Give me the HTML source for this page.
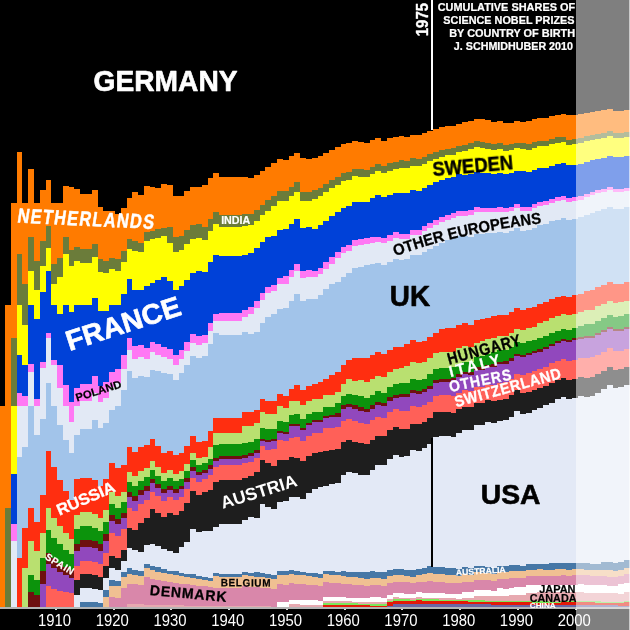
<!DOCTYPE html>
<html><head><meta charset="utf-8"><title>Nobel shares</title>
<style>
html,body{margin:0;padding:0;background:#000;}
body{width:630px;height:630px;overflow:hidden;font-family:"Liberation Sans",sans-serif;}
svg{display:block;}
text{font-family:"Liberation Sans",sans-serif;}
</style></head><body>
<svg width="630" height="630" viewBox="0 0 630 630" shape-rendering="crispEdges">
<rect x="0" y="0" width="630" height="630" fill="#000"/>
<g>
<path d="M-0.8 0H630V109.6H624.2V110.7H618.4V110.8H612.6V108.8H606.8V109.9H601V110.5H595.3V111.7H589.5V112.9H583.7V114.1H577.9V114.6H572.1V115.3H566.3V114.3H560.5V114.8H554.8V116.1H549V117.5H543.2V118H537.4V119.4H531.6V120.8H525.8V122.3H520V121.3H514.2V122.8H508.5V123.1H502.7V121.2H496.9V121.5H491.1V120.2H485.3V119.1H479.5V118.9H473.7V120.5H467.9V122.1H462.2V123.8H456.4V125.5H450.6V125.9H444.8V127H439V128.8H433.2V130.8H427.4V132.7H421.7V134.8H410.1V136.9H404.3V135.9H398.5V137H392.7V138.1H386.9V140.5H381.1V137.6H375.4V140H369.6V142.5H363.8V141.9H358V140.7H352.2V143.4H346.4V144.2H340.6V147H334.8V149.9H329.1V152.9H323.3V156.1H317.5V158H311.7V159.2H305.9V158.2H300.1V152.6H294.3V156.2H288.6V159.8H282.8V158.8H277V162.7H271.2V166.9H265.4V170.5H259.6V175H253.8V178H248V177.3H242.3V176.5H219.1V172.7H213.3V178H207.5V184.6H201.7V187.4H196V186.9H190.2V191.2H184.4V195.8H178.6V195.5H172.8V185H167V184.3H161.2V187.7H155.4V187.1H149.7V186.3H143.9V195.1H138.1V191.5H132.3V197.9H126.5V208.3H120.7V214.3H114.9V210.8H109.2V211.3H103.4V207.3H97.6V189.5H91.8V193.8H80.2V188.5H74.4V187.4H68.6V186.1H62.9V203H51.3V180.4H45.5V190.3H39.7V203H33.9V169.2H28.1V203H22.3V152.2H16.6V203H10.8V304.5H5V406H-0.8Z" fill="#000000"/>
<path d="M-0.8 406H5V304.5H10.8V203H16.6V152.2H22.3V203H28.1V169.2H33.9V203H39.7V190.3H45.5V180.4H51.3V203H62.9V186.1H68.6V187.4H74.4V188.5H80.2V193.8H91.8V189.5H97.6V207.3H103.4V211.3H109.2V210.8H114.9V214.3H120.7V208.3H126.5V197.9H132.3V191.5H138.1V195.1H143.9V186.3H149.7V187.1H155.4V187.7H161.2V184.3H167V185H172.8V195.5H178.6V195.8H184.4V191.2H190.2V186.9H196V187.4H201.7V184.6H207.5V178H213.3V172.7H219.1V176.5H242.3V177.3H248V178H253.8V175H259.6V170.5H265.4V166.9H271.2V162.7H277V158.8H282.8V159.8H288.6V156.2H294.3V152.6H300.1V158.2H305.9V159.2H311.7V158H317.5V156.1H323.3V152.9H329.1V149.9H334.8V147H340.6V144.2H346.4V143.4H352.2V140.7H358V141.9H363.8V142.5H369.6V140H375.4V137.6H381.1V140.5H386.9V138.1H392.7V137H398.5V135.9H404.3V136.9H410.1V134.8H421.7V132.7H427.4V130.8H433.2V128.8H439V127H444.8V125.9H450.6V125.5H456.4V123.8H462.2V122.1H467.9V120.5H473.7V118.9H479.5V119.1H485.3V120.2H491.1V121.5H496.9V121.2H502.7V123.1H508.5V122.8H514.2V121.3H520V122.3H525.8V120.8H531.6V119.4H537.4V118H543.2V117.5H549V116.1H554.8V114.8H560.5V114.3H566.3V115.3H572.1V114.6H577.9V114.1H583.7V112.9H589.5V111.7H595.3V110.5H601V109.9H606.8V108.8H612.6V110.8H618.4V110.7H624.2V109.6H630V131.5H624.2V132.8H618.4V133.1H612.6V131.3H606.8V132.7H601V133.5H595.3V134.9H589.5V136.4H583.7V137.8H577.9V138.6H572.1V139.6H566.3V136.6H560.5V137.4H554.8V138.9H549V140.5H543.2V140.6H537.4V142.2H531.6V143.9H525.8V143.2H520V142.5H514.2V144.2H508.5V144.8H502.7V143.2H496.9V143.7H491.1V142.7H485.3V141.9H479.5V140.7H473.7V142.6H467.9V144.5H462.2V145.8H456.4V147.9H450.6V148.5H444.8V149.9H439V152.1H433.2V154.4H427.4V156.7H421.7V159.1H415.9V158.4H410.1V160.9H404.3V160.2H398.5V161.7H392.7V163.3H386.9V166H381.1V163.7H375.4V166.5H369.6V169.5H363.8V169.4H358V168.8H352.2V171.9H346.4V173.3H340.6V176.6H334.8V180.1H329.1V183.8H323.3V187.6H317.5V190.1H311.7V192H305.9V191.8H300.1V182.4H294.3V186.6H288.6V191H282.8V190.7H277V195.5H271.2V200.4H265.4V204.8H259.6V210.2H253.8V214.1H248V214.4H242.3V214.8H219.1V212.1H213.3V218.6H207.5V226.8H201.7V224.2H196V224.9H190.2V230.1H184.4V235.6H178.6V236.8H172.8V227.4H167V228.4H161.2V229.4H155.4V230.5H149.7V231.8H143.9V242.6H138.1V240.7H132.3V238.5H126.5V251.1H120.7V259.4H114.9V257.7H109.2V261H103.4V259.1H97.6V243.6H91.8V249.1H80.2V246.5H74.4V249.8H68.6V236.8H62.9V258.4H57.1V263.9H51.3V225.6H45.5V241.1H39.7V261H33.9V236.8H28.1V284.2H22.3V253.8H16.6V338.3H10.8V507.5H5V609H-0.8Z" fill="#ff7b00"/>
<path d="M-0.8 609H5V507.5H10.8V338.3H16.6V253.8H22.3V284.2H28.1V236.8H33.9V261H39.7V241.1H45.5V225.6H51.3V263.9H57.1V258.4H62.9V236.8H68.6V249.8H74.4V246.5H80.2V249.1H91.8V243.6H97.6V259.1H103.4V261H109.2V257.7H114.9V259.4H120.7V251.1H126.5V238.5H132.3V240.7H138.1V242.6H143.9V231.8H149.7V230.5H155.4V229.4H161.2V228.4H167V227.4H172.8V236.8H178.6V235.6H184.4V230.1H190.2V224.9H196V224.2H201.7V226.8H207.5V218.6H213.3V212.1H219.1V214.8H242.3V214.4H248V214.1H253.8V210.2H259.6V204.8H265.4V200.4H271.2V195.5H277V190.7H282.8V191H288.6V186.6H294.3V182.4H300.1V191.8H305.9V192H311.7V190.1H317.5V187.6H323.3V183.8H329.1V180.1H334.8V176.6H340.6V173.3H346.4V171.9H352.2V168.8H358V169.4H363.8V169.5H369.6V166.5H375.4V163.7H381.1V166H386.9V163.3H392.7V161.7H398.5V160.2H404.3V160.9H410.1V158.4H415.9V159.1H421.7V156.7H427.4V154.4H433.2V152.1H439V149.9H444.8V148.5H450.6V147.9H456.4V145.8H462.2V144.5H467.9V142.6H473.7V140.7H479.5V141.9H485.3V142.7H491.1V143.7H496.9V143.2H502.7V144.8H508.5V144.2H514.2V142.5H520V143.2H525.8V143.9H531.6V142.2H537.4V140.6H543.2V140.5H549V138.9H554.8V137.4H560.5V136.6H566.3V139.6H572.1V138.6H577.9V137.8H583.7V136.4H589.5V134.9H595.3V133.5H601V132.7H606.8V131.3H612.6V133.1H618.4V132.8H624.2V131.5H630V136.8H624.2V137.5H618.4V137.9H612.6V136.2H606.8V137.6H601V138.5H595.3V139.9H589.5V141.4H583.7V142.9H577.9V143.7H572.1V144.7H566.3V141.9H560.5V142.7H554.8V144.3H549V146H543.2V146.1H537.4V147.8H531.6V149.5H525.8V148.9H520V148.2H514.2V150.1H508.5V150.7H502.7V149.2H496.9V149.8H491.1V148.9H485.3V148.1H479.5V147H473.7V148.9H467.9V151H462.2V152.4H456.4V154.5H450.6V155.3H444.8V156.8H439V159.1H433.2V161.4H427.4V163.9H421.7V166.4H415.9V165.8H410.1V168.4H404.3V167.8H398.5V169.4H392.7V171.1H386.9V172.9H381.1V170.6H375.4V173.6H369.6V176.7H358V176.2H352.2V179.5H346.4V181H340.6V184.5H334.8V188.2H329.1V192H323.3V196H317.5V198.7H311.7V200.8H300.1V191.6H294.3V196H288.6V200.6H282.8V200.5H277V205.5H271.2V210.7H265.4V215.3H259.6V221H253.8V225.2H248V225.9H242.3V226.5H219.1V224.2H213.3V231.1H207.5V239.7H201.7V237.6H196V238.8H190.2V244.3H184.4V250.1H178.6V251.9H172.8V242.8H167V236.4H161.2V237.8H155.4V239.2H149.7V240.9H143.9V252.2H138.1V250.5H132.3V248.7H126.5V261.8H120.7V270.7H114.9V269.4H109.2V273.4H103.4V272.1H97.6V257.1H91.8V263H80.2V261H74.4V265.5H68.6V253.8H62.9V276.8H57.1V284.2H51.3V248.1H45.5V266.4H39.7V290H33.9V270.7H28.1V324.8H22.3V304.5H16.6V406H10.8V609H-0.8Z" fill="#6b7c3a"/>
<path d="M-0.8 609H10.8V406H16.6V304.5H22.3V324.8H28.1V270.7H33.9V290H39.7V266.4H45.5V248.1H51.3V284.2H57.1V276.8H62.9V253.8H68.6V265.5H74.4V261H80.2V263H91.8V257.1H97.6V272.1H103.4V273.4H109.2V269.4H114.9V270.7H120.7V261.8H126.5V248.7H132.3V250.5H138.1V252.2H143.9V240.9H149.7V239.2H155.4V237.8H161.2V236.4H167V242.8H172.8V251.9H178.6V250.1H184.4V244.3H190.2V238.8H196V237.6H201.7V239.7H207.5V231.1H213.3V224.2H219.1V226.5H242.3V225.9H248V225.2H253.8V221H259.6V215.3H265.4V210.7H271.2V205.5H277V200.5H282.8V200.6H288.6V196H294.3V191.6H300.1V200.8H311.7V198.7H317.5V196H323.3V192H329.1V188.2H334.8V184.5H340.6V181H346.4V179.5H352.2V176.2H358V176.7H369.6V173.6H375.4V170.6H381.1V172.9H386.9V171.1H392.7V169.4H398.5V167.8H404.3V168.4H410.1V165.8H415.9V166.4H421.7V163.9H427.4V161.4H433.2V159.1H439V156.8H444.8V155.3H450.6V154.5H456.4V152.4H462.2V151H467.9V148.9H473.7V147H479.5V148.1H485.3V148.9H491.1V149.8H496.9V149.2H502.7V150.7H508.5V150.1H514.2V148.2H520V148.9H525.8V149.5H531.6V147.8H537.4V146.1H543.2V146H549V144.3H554.8V142.7H560.5V141.9H566.3V144.7H572.1V143.7H577.9V142.9H583.7V141.4H589.5V139.9H595.3V138.5H601V137.6H606.8V136.2H612.6V137.9H618.4V137.5H624.2V136.8H630V156H624.2V156.9H618.4V157.4H612.6V156H606.8V157.6H601V158.7H595.3V160.3H589.5V162H583.7V163.8H577.9V164.8H572.1V165.3H566.3V162.6H560.5V163.7H554.8V165.6H549V167.5H543.2V167.8H537.4V169.8H531.6V171.8H525.8V171.4H520V171.1H514.2V173.2H508.5V174.1H502.7V172.8H496.9V173.8H491.1V173.2H485.3V172.8H479.5V171.9H473.7V174.2H467.9V174.8H462.2V174.4H456.4V176.8H450.6V177.9H444.8V179.7H439V182.4H433.2V185.1H427.4V187.9H421.7V190.7H415.9V190.4H410.1V193.4H404.3V193.3H398.5V192.5H392.7V194.6H386.9V196.7H381.1V194.9H375.4V198.3H369.6V201.8H363.8V202.4H352.2V206.2H346.4V208.2H340.6V212.2H334.8V216.4H329.1V220.8H323.3V225.4H317.5V228.7H311.7V227.1H305.9V227.6H300.1V219H294.3V224.1H288.6V229.4H282.8V230H277V235.7H271.2V236.5H265.4V241.7H259.6V248.1H253.8V253.1H248V254.5H242.3V256H219.1V254.5H213.3V262.3H207.5V272.1H201.7V271H196V273.4H190.2V279.7H184.4V286.4H178.6V289.5H172.8V281.4H167V276.5H161.2V279.5H155.4V282.8H149.7V286.3H143.9V290.2H138.1V289.8H132.3V279.1H126.5V293.8H120.7V304.5H109.2V310.7H103.4V311H97.6V297.7H91.8V304.5H74.4V312.3H68.6V304.5H62.9V313.7H57.1V304.5H51.3V270.7H45.5V291.8H39.7V319H33.9V304.5H28.1V365.4H22.3V355.2H16.6V473.7H10.8V609H-0.8Z" fill="#ffff00"/>
<path d="M-0.8 609H10.8V473.7H16.6V355.2H22.3V365.4H28.1V304.5H33.9V319H39.7V291.8H45.5V270.7H51.3V304.5H57.1V313.7H62.9V304.5H68.6V312.3H74.4V304.5H91.8V297.7H97.6V311H103.4V310.7H109.2V304.5H120.7V293.8H126.5V279.1H132.3V289.8H138.1V290.2H143.9V286.3H149.7V282.8H155.4V279.5H161.2V276.5H167V281.4H172.8V289.5H178.6V286.4H184.4V279.7H190.2V273.4H196V271H201.7V272.1H207.5V262.3H213.3V254.5H219.1V256H242.3V254.5H248V253.1H253.8V248.1H259.6V241.7H265.4V236.5H271.2V235.7H277V230H282.8V229.4H288.6V224.1H294.3V219H300.1V227.6H305.9V227.1H311.7V228.7H317.5V225.4H323.3V220.8H329.1V216.4H334.8V212.2H340.6V208.2H346.4V206.2H352.2V202.4H363.8V201.8H369.6V198.3H375.4V194.9H381.1V196.7H386.9V194.6H392.7V192.5H398.5V193.3H404.3V193.4H410.1V190.4H415.9V190.7H421.7V187.9H427.4V185.1H433.2V182.4H439V179.7H444.8V177.9H450.6V176.8H456.4V174.4H462.2V174.8H467.9V174.2H473.7V171.9H479.5V172.8H485.3V173.2H491.1V173.8H496.9V172.8H502.7V174.1H508.5V173.2H514.2V171.1H520V171.4H525.8V171.8H531.6V169.8H537.4V167.8H543.2V167.5H549V165.6H554.8V163.7H560.5V162.6H566.3V165.3H572.1V164.8H577.9V163.8H583.7V162H589.5V160.3H595.3V158.7H601V157.6H606.8V156H612.6V157.4H618.4V156.9H624.2V156H630V187.7H624.2V188.9H618.4V188.8H612.6V186.6H606.8V188.5H601V189.9H595.3V191.9H589.5V194H583.7V196H577.9V197.4H572.1V198.3H566.3V196H560.5V197.4H554.8V198.9H549V201.2H543.2V202H537.4V204.3H531.6V206.7H525.8V206.8H520V204.4H514.2V206.9H508.5V208.2H502.7V207.4H496.9V207.9H491.1V207.7H485.3V207.8H479.5V207.4H473.7V210.2H467.9V211.2H462.2V211.3H456.4V213.4H450.6V215H444.8V217.3H439V219.8H433.2V223H427.4V226.4H421.7V229.9H415.9V230H410.1V233.6H404.3V234.1H398.5V232.4H392.7V235.2H386.9V238H381.1V236.8H375.4V237.4H369.6V238H363.8V239.4H358V240.1H352.2V244.6H346.4V247.3H340.6V252.1H334.8V257.1H329.1V262.3H323.3V267.8H317.5V270.5H311.7V269.8H305.9V271.3H300.1V263.7H294.3V269.8H288.6V276.1H282.8V277.9H277V284.8H271.2V286.9H265.4V293.1H259.6V300.9H253.8V307.3H248V310.2H242.3V313.3H219.1V313.6H213.3V323.2H207.5V335.3H201.7V336.3H196V333.9H190.2V341.7H184.4V349.8H178.6V355.2H172.8V348.8H167V346.6H161.2V344.1H155.4V341.5H149.7V347.7H143.9V344.9H138.1V346.2H132.3V337.5H126.5V355.2H120.7V369.3H114.9V371.8H109.2V382.2H103.4V385.5H97.6V375.6H91.8V384.1H80.2V387.9H74.4V402.1H68.6V384.9H62.9V364.5H57.1V360.3H51.3V332.7H45.5V361.6H39.7V398.8H33.9V363.7H28.1V395.9H22.3V393.3H16.6V524.4H10.8V609H-0.8Z" fill="#0041d8"/>
<path d="M-0.8 609H10.8V524.4H16.6V393.3H22.3V395.9H28.1V363.7H33.9V398.8H39.7V361.6H45.5V332.7H51.3V360.3H57.1V364.5H62.9V384.9H68.6V402.1H74.4V387.9H80.2V384.1H91.8V375.6H97.6V385.5H103.4V382.2H109.2V371.8H114.9V369.3H120.7V355.2H126.5V337.5H132.3V346.2H138.1V344.9H143.9V347.7H149.7V341.5H155.4V344.1H161.2V346.6H167V348.8H172.8V355.2H178.6V349.8H184.4V341.7H190.2V333.9H196V336.3H201.7V335.3H207.5V323.2H213.3V313.6H219.1V313.3H242.3V310.2H248V307.3H253.8V300.9H259.6V293.1H265.4V286.9H271.2V284.8H277V277.9H282.8V276.1H288.6V269.8H294.3V263.7H300.1V271.3H305.9V269.8H311.7V270.5H317.5V267.8H323.3V262.3H329.1V257.1H334.8V252.1H340.6V247.3H346.4V244.6H352.2V240.1H358V239.4H363.8V238H369.6V237.4H375.4V236.8H381.1V238H386.9V235.2H392.7V232.4H398.5V234.1H404.3V233.6H410.1V230H415.9V229.9H421.7V226.4H427.4V223H433.2V219.8H439V217.3H444.8V215H450.6V213.4H456.4V211.3H462.2V211.2H467.9V210.2H473.7V207.4H479.5V207.8H485.3V207.7H491.1V207.9H496.9V207.4H502.7V208.2H508.5V206.9H514.2V204.4H520V206.8H525.8V206.7H531.6V204.3H537.4V202H543.2V201.2H549V198.9H554.8V197.4H560.5V196H566.3V198.3H572.1V197.4H577.9V196H583.7V194H589.5V191.9H595.3V189.9H601V188.5H606.8V186.6H612.6V188.8H618.4V188.9H624.2V187.7H630V190.9H624.2V192.1H618.4V192H612.6V189.9H606.8V191.8H601V193.3H595.3V195.3H589.5V197.4H583.7V199.5H577.9V200.9H572.1V201.8H566.3V199.6H560.5V201H554.8V202.6H549V204.9H543.2V205.7H537.4V208.1H531.6V210.6H525.8V210.7H520V208.3H514.2V210.8H508.5V212.2H502.7V211.5H496.9V212H491.1V211.9H485.3V212H479.5V211.7H473.7V214.5H467.9V215.6H462.2V215.8H456.4V217.9H450.6V219.5H444.8V222H439V224.5H433.2V227.8H427.4V231.2H421.7V234.8H415.9V235H410.1V238.7H404.3V239.3H398.5V237.7H392.7V240.5H386.9V243.4H381.1V242.3H375.4V243H369.6V243.7H363.8V245.2H358V246H352.2V250.6H346.4V253.4H340.6V258.4H334.8V263.5H329.1V268.8H323.3V274.4H317.5V277.3H311.7V276.8H305.9V278.4H300.1V270.9H294.3V277.2H288.6V283.7H282.8V284H277V291.1H271.2V293.3H265.4V299.7H259.6V307.7H253.8V314.2H248V317.4H242.3V320.7H219.1V321.2H213.3V331H207.5V343.4H201.7V344.7H196V342.6H190.2V350.5H184.4V358.9H178.6V364.6H172.8V358.5H167V356.6H161.2V354.6H155.4V352.4H149.7V359H143.9V356.8H138.1V358.5H132.3V350.2H126.5V368.6H120.7V383.4H114.9V386.5H109.2V397.7H103.4V401.7H97.6V392.5H91.8V401.4H80.2V406H74.4V421.6H68.6V406H62.9V387.5H57.1V365.4H51.3V338.3H45.5V367.9H39.7V406H33.9V372.2H28.1V406H16.6V541.3H10.8V609H-0.8Z" fill="#ff78f4"/>
<path d="M-0.8 609H10.8V541.3H16.6V406H28.1V372.2H33.9V406H39.7V367.9H45.5V338.3H51.3V365.4H57.1V387.5H62.9V406H68.6V421.6H74.4V406H80.2V401.4H91.8V392.5H97.6V401.7H103.4V397.7H109.2V386.5H114.9V383.4H120.7V368.6H126.5V350.2H132.3V358.5H138.1V356.8H143.9V359H149.7V352.4H155.4V354.6H161.2V356.6H167V358.5H172.8V364.6H178.6V358.9H184.4V350.5H190.2V342.6H196V344.7H201.7V343.4H207.5V331H213.3V321.2H219.1V320.7H242.3V317.4H248V314.2H253.8V307.7H259.6V299.7H265.4V293.3H271.2V291.1H277V284H282.8V283.7H288.6V277.2H294.3V270.9H300.1V278.4H305.9V276.8H311.7V277.3H317.5V274.4H323.3V268.8H329.1V263.5H334.8V258.4H340.6V253.4H346.4V250.6H352.2V246H358V245.2H363.8V243.7H369.6V243H375.4V242.3H381.1V243.4H386.9V240.5H392.7V237.7H398.5V239.3H404.3V238.7H410.1V235H415.9V234.8H421.7V231.2H427.4V227.8H433.2V224.5H439V222H444.8V219.5H450.6V217.9H456.4V215.8H462.2V215.6H467.9V214.5H473.7V211.7H479.5V212H485.3V211.9H491.1V212H496.9V211.5H502.7V212.2H508.5V210.8H514.2V208.3H520V210.7H525.8V210.6H531.6V208.1H537.4V205.7H543.2V204.9H549V202.6H554.8V201H560.5V199.6H566.3V201.8H572.1V200.9H577.9V199.5H583.7V197.4H589.5V195.3H595.3V193.3H601V191.8H606.8V189.9H612.6V192H618.4V192.1H624.2V190.9H630V207.3H624.2V208.7H612.6V206.7H606.8V208.9H601V210.5H595.3V212.7H589.5V215H583.7V217.3H577.9V218.9H572.1V220H566.3V217.9H560.5V219.6H554.8V221.3H549V223.9H543.2V224.9H537.4V227.5H531.6V230.2H525.8V230.6H520V228.4H514.2V231.2H508.5V232.9H502.7V232.4H496.9V233.2H491.1V233.4H485.3V233.8H479.5V233.7H473.7V236.9H467.9V235.5H462.2V235.9H456.4V238.3H450.6V240.2H444.8V243H439V245.8H433.2V249.4H427.4V251.7H421.7V254.5H415.9V254.9H410.1V258.9H404.3V259.8H398.5V258.6H392.7V261.7H386.9V265H381.1V263.1H375.4V264.2H369.6V265.3H363.8V267.2H358V268.4H352.2V273.4H346.4V276.7H340.6V282.1H334.8V283.7H329.1V289.4H323.3V295.4H317.5V298.8H311.7V298.7H305.9V300.8H300.1V293.8H294.3V300.6H288.6V307.7H282.8V308.6H277V313.7H271.2V316.5H265.4V323.4H259.6V332H253.8V333.7H248V331.7H242.3V335.4H219.1V333.3H213.3V343.5H207.5V356.3H201.7V358H196V356.4H190.2V364.7H184.4V373.4H178.6V379.7H172.8V373.9H167V372.6H161.2V371.2H155.4V369.7H149.7V377.2H143.9V375.9H138.1V378.2H132.3V370.5H126.5V390H120.7V406H114.9V409.9H109.2V422.6H103.4V427.6H97.6V419.5H91.8V429.1H80.2V435H74.4V452.8H68.6V439.8H62.9V424.5H57.1V406H51.3V383.4H45.5V418.7H39.7V435H33.9V406H28.1V446.6H22.3V456.8H16.6V609H-0.8Z" fill="#e2e9f5"/>
<path d="M-0.8 609H16.6V456.8H22.3V446.6H28.1V406H33.9V435H39.7V418.7H45.5V383.4H51.3V406H57.1V424.5H62.9V439.8H68.6V452.8H74.4V435H80.2V429.1H91.8V419.5H97.6V427.6H103.4V422.6H109.2V409.9H114.9V406H120.7V390H126.5V370.5H132.3V378.2H138.1V375.9H143.9V377.2H149.7V369.7H155.4V371.2H161.2V372.6H167V373.9H172.8V379.7H178.6V373.4H184.4V364.7H190.2V356.4H196V358H201.7V356.3H207.5V343.5H213.3V333.3H219.1V335.4H242.3V331.7H248V333.7H253.8V332H259.6V323.4H265.4V316.5H271.2V313.7H277V308.6H282.8V307.7H288.6V300.6H294.3V293.8H300.1V300.8H305.9V298.7H311.7V298.8H317.5V295.4H323.3V289.4H329.1V283.7H334.8V282.1H340.6V276.7H346.4V273.4H352.2V268.4H358V267.2H363.8V265.3H369.6V264.2H375.4V263.1H381.1V265H386.9V261.7H392.7V258.6H398.5V259.8H404.3V258.9H410.1V254.9H415.9V254.5H421.7V251.7H427.4V249.4H433.2V245.8H439V243H444.8V240.2H450.6V238.3H456.4V235.9H462.2V235.5H467.9V236.9H473.7V233.7H479.5V233.8H485.3V233.4H491.1V233.2H496.9V232.4H502.7V232.9H508.5V231.2H514.2V228.4H520V230.6H525.8V230.2H531.6V227.5H537.4V224.9H543.2V223.9H549V221.3H554.8V219.6H560.5V217.9H566.3V220H572.1V218.9H577.9V217.3H583.7V215H589.5V212.7H595.3V210.5H601V208.9H606.8V206.7H612.6V208.7H624.2V207.3H630V282.1H624.2V283.6H618.4V284.4H612.6V281.8H606.8V284.7H601V287.1H595.3V290.1H589.5V291.4H583.7V293.8H577.9V294.8H572.1V296.7H566.3V295.5H560.5V296.9H554.8V298.9H549V301.6H543.2V303.5H537.4V307.1H531.6V308.3H525.8V309.6H520V308.4H514.2V312.2H508.5V314.8H502.7V314.5H496.9V316.4H491.1V317.6H485.3V319.1H479.5V320.2H473.7V324.5H467.9V323.4H462.2V325.1H456.4V328H450.6V328.3H444.8V329.4H439V332.5H433.2V337.4H427.4V341H421.7V342.1H415.9V340.4H410.1V344.2H404.3V346.5H398.5V346.6H392.7V349.5H386.9V354.3H381.1V352.2H375.4V354.8H369.6V357.5H363.8V357.7H358V358.1H352.2V359.7H346.4V364.6H340.6V371.7H334.8V375.1H329.1V378.6H323.3V382.2H317.5V383.8H311.7V385.6H305.9V389.6H300.1V384.6H294.3V388.8H288.6V395.6H282.8V393.7H277V401H271.2V400.8H265.4V399H259.6V409.6H253.8V411.6H248V411.7H242.3V417.8H219.1V418.1H213.3V431H207.5V440.6H201.7V441.7H196V436H190.2V446.1H184.4V453.1H178.6V454.9H172.8V451H167V452.7H161.2V446.3H155.4V439.3H149.7V445.4H143.9V447.2H138.1V451.8H132.3V446.6H126.5V464.8H120.7V468H114.9V462.6H109.2V478.5H103.4V485.9H97.6V480.4H91.8V477.5H80.2V478.5H74.4V499.7H68.6V490.6H62.9V479.8H57.1V466.9H51.3V451.1H45.5V494.8H39.7V522H33.9V507.5H28.1V527.8H22.3V558.2H16.6V609H-0.8Z" fill="#a2c4ea"/>
<path d="M-0.8 609H16.6V558.2H22.3V527.8H28.1V507.5H33.9V522H39.7V494.8H45.5V451.1H51.3V466.9H57.1V479.8H62.9V490.6H68.6V499.7H74.4V478.5H80.2V477.5H91.8V480.4H97.6V485.9H103.4V478.5H109.2V462.6H114.9V468H120.7V464.8H126.5V446.6H132.3V451.8H138.1V447.2H143.9V445.4H149.7V439.3H155.4V446.3H161.2V452.7H167V451H172.8V454.9H178.6V453.1H184.4V446.1H190.2V436H196V441.7H201.7V440.6H207.5V431H213.3V418.1H219.1V417.8H242.3V411.7H248V411.6H253.8V409.6H259.6V399H265.4V400.8H271.2V401H277V393.7H282.8V395.6H288.6V388.8H294.3V384.6H300.1V389.6H305.9V385.6H311.7V383.8H317.5V382.2H323.3V378.6H329.1V375.1H334.8V371.7H340.6V364.6H346.4V359.7H352.2V358.1H358V357.7H363.8V357.5H369.6V354.8H375.4V352.2H381.1V354.3H386.9V349.5H392.7V346.6H398.5V346.5H404.3V344.2H410.1V340.4H415.9V342.1H421.7V341H427.4V337.4H433.2V332.5H439V329.4H444.8V328.3H450.6V328H456.4V325.1H462.2V323.4H467.9V324.5H473.7V320.2H479.5V319.1H485.3V317.6H491.1V316.4H496.9V314.5H502.7V314.8H508.5V312.2H514.2V308.4H520V309.6H525.8V308.3H531.6V307.1H537.4V303.5H543.2V301.6H549V298.9H554.8V296.9H560.5V295.5H566.3V296.7H572.1V294.8H577.9V293.8H583.7V291.4H589.5V290.1H595.3V287.1H601V284.7H606.8V281.8H612.6V284.4H618.4V283.6H624.2V282.1H630V300.5H624.2V302.1H618.4V303.1H612.6V300.7H606.8V303.8H601V306.4H595.3V309.6H589.5V309.7H583.7V312.3H577.9V313.5H572.1V315.1H566.3V314.1H560.5V315.7H554.8V317.9H549V320.8H543.2V322.9H537.4V326.7H531.6V328.2H525.8V329.7H520V328.8H514.2V332.8H508.5V335.7H496.9V337.8H491.1V339.3H485.3V341.1H479.5V342.5H473.7V347.1H467.9V346.3H462.2V348.3H456.4V351.5H450.6V352.2H444.8V352.1H439V352.6H433.2V357.8H427.4V361.7H421.7V363.1H415.9V361.7H410.1V365.8H404.3V368.4H398.5V368.9H392.7V372.2H386.9V377.3H381.1V375.6H375.4V378.6H369.6V381.7H363.8V379.7H358V380.5H352.2V378.7H346.4V384H340.6V391.5H334.8V395.2H329.1V395H323.3V399H317.5V398.9H311.7V400.9H305.9V405.3H300.1V400.7H294.3V400.5H288.6V407.6H282.8V406H277V413.5H271.2V413.7H265.4V412.2H259.6V423.1H253.8V425.5H248V426H242.3V432.5H219.1V433.3H213.3V446.6H207.5V456.8H201.7V458.4H196V453.3H190.2V463.8H184.4V471.2H178.6V473.7H172.8V470.2H167V472.8H161.2V467.2H155.4V461.1H149.7V468.1H143.9V471H138.1V476.4H132.3V472H126.5V491.5H120.7V496.2H114.9V491.9H109.2V509.6H103.4V518.3H97.6V514.3H91.8V512.1H80.2V514.8H74.4V538.7H68.6V532.9H62.9V526H57.1V517.6H51.3V507.5H45.5V532.9H39.7V551H33.9V541.3H28.1V568.4H22.3V609H-0.8Z" fill="#ff2e10"/>
<path d="M-0.8 609H22.3V568.4H28.1V541.3H33.9V551H39.7V532.9H45.5V507.5H51.3V517.6H57.1V526H62.9V532.9H68.6V538.7H74.4V514.8H80.2V512.1H91.8V514.3H97.6V518.3H103.4V509.6H109.2V491.9H114.9V496.2H120.7V491.5H126.5V472H132.3V476.4H138.1V471H143.9V468.1H149.7V461.1H155.4V467.2H161.2V472.8H167V470.2H172.8V473.7H178.6V471.2H184.4V463.8H190.2V453.3H196V458.4H201.7V456.8H207.5V446.6H213.3V433.3H219.1V432.5H242.3V426H248V425.5H253.8V423.1H259.6V412.2H265.4V413.7H271.2V413.5H277V406H282.8V407.6H288.6V400.5H294.3V400.7H300.1V405.3H305.9V400.9H311.7V398.9H317.5V399H323.3V395H329.1V395.2H334.8V391.5H340.6V384H346.4V378.7H352.2V380.5H358V379.7H363.8V381.7H369.6V378.6H375.4V375.6H381.1V377.3H386.9V372.2H392.7V368.9H398.5V368.4H404.3V365.8H410.1V361.7H415.9V363.1H421.7V361.7H427.4V357.8H433.2V352.6H439V352.1H444.8V352.2H450.6V351.5H456.4V348.3H462.2V346.3H467.9V347.1H473.7V342.5H479.5V341.1H485.3V339.3H491.1V337.8H496.9V335.7H508.5V332.8H514.2V328.8H520V329.7H525.8V328.2H531.6V326.7H537.4V322.9H543.2V320.8H549V317.9H554.8V315.7H560.5V314.1H566.3V315.1H572.1V313.5H577.9V312.3H583.7V309.7H589.5V309.6H595.3V306.4H601V303.8H606.8V300.7H612.6V303.1H618.4V302.1H624.2V300.5H630V314.2H624.2V316H618.4V317.1H612.6V314.8H606.8V318.1H601V320.8H595.3V323.5H589.5V323.7H583.7V326.4H577.9V327.8H572.1V329.5H566.3V328.7H560.5V330.5H554.8V332.9H549V335.9H543.2V338.2H537.4V339.8H531.6V341.4H525.8V343.1H520V342.3H514.2V346.5H508.5V349.6H502.7V349.7H496.9V352H491.1V353.8H485.3V355.7H479.5V357.3H473.7V362.1H467.9V361.5H462.2V363.7H456.4V367.2H450.6V368H444.8V368.2H439V368.9H433.2V374.4H427.4V378.5H421.7V380.2H415.9V379H410.1V383.4H404.3V383H398.5V383.7H392.7V387.3H386.9V392.6H381.1V391.3H375.4V394.5H369.6V397.9H363.8V396.2H358V395.4H352.2V393.9H346.4V395.7H340.6V403.4H334.8V407.3H329.1V407.4H323.3V411.6H317.5V411.7H311.7V414H305.9V418.7H300.1V414.4H294.3V414.6H288.6V422H282.8V420.7H277V428.6H271.2V429.2H265.4V428H259.6V439.4H253.8V442.2H248V443.2H242.3V444.2H219.1V445.4H213.3V459.1H207.5V463.2H201.7V465.1H196V460.2H190.2V470.9H184.4V478.5H178.6V481.2H172.8V477.9H167V480.8H161.2V475.5H155.4V469.8H149.7V477.2H143.9V480.5H138.1V486.2H132.3V482.1H126.5V502.2H120.7V507.5H114.9V503.6H109.2V522H103.4V531.3H97.6V527.8H91.8V526H80.2V529.2H74.4V554.3H68.6V549.8H62.9V544.4H57.1V537.9H51.3V530.1H45.5V558.2H39.7V580H33.9V575.2H28.1V609H-0.8Z" fill="#b9e070"/>
<path d="M-0.8 609H28.1V575.2H33.9V580H39.7V558.2H45.5V530.1H51.3V537.9H57.1V544.4H62.9V549.8H68.6V554.3H74.4V529.2H80.2V526H91.8V527.8H97.6V531.3H103.4V522H109.2V503.6H114.9V507.5H120.7V502.2H126.5V482.1H132.3V486.2H138.1V480.5H143.9V477.2H149.7V469.8H155.4V475.5H161.2V480.8H167V477.9H172.8V481.2H178.6V478.5H184.4V470.9H190.2V460.2H196V465.1H201.7V463.2H207.5V459.1H213.3V445.4H219.1V444.2H242.3V443.2H248V442.2H253.8V439.4H259.6V428H265.4V429.2H271.2V428.6H277V420.7H282.8V422H288.6V414.6H294.3V414.4H300.1V418.7H305.9V414H311.7V411.7H317.5V411.6H323.3V407.4H329.1V407.3H334.8V403.4H340.6V395.7H346.4V393.9H352.2V395.4H358V396.2H363.8V397.9H369.6V394.5H375.4V391.3H381.1V392.6H386.9V387.3H392.7V383.7H398.5V383H404.3V383.4H410.1V379H415.9V380.2H421.7V378.5H427.4V374.4H433.2V368.9H439V368.2H444.8V368H450.6V367.2H456.4V363.7H462.2V361.5H467.9V362.1H473.7V357.3H479.5V355.7H485.3V353.8H491.1V352H496.9V349.7H502.7V349.6H508.5V346.5H514.2V342.3H520V343.1H525.8V341.4H531.6V339.8H537.4V338.2H543.2V335.9H549V332.9H554.8V330.5H560.5V328.7H566.3V329.5H572.1V327.8H577.9V326.4H583.7V323.7H589.5V323.5H595.3V320.8H601V318.1H606.8V314.8H612.6V317.1H618.4V316H624.2V314.2H630V327.2H624.2V329.1H618.4V329.4H612.6V326.5H606.8V329.9H601V332.8H595.3V335.6H589.5V335.9H583.7V336.6H577.9V338H572.1V339.9H566.3V339.2H560.5V341.1H554.8V343.6H549V346.8H543.2V349.2H537.4V350.9H531.6V352.7H525.8V354.5H520V353.8H514.2V358.2H508.5V361.4H502.7V361.7H496.9V364.1H491.1V364.7H485.3V366.8H479.5V367.2H473.7V372.1H467.9V371.7H462.2V374H456.4V377.6H450.6V378.6H444.8V379H439V379.8H433.2V385.5H427.4V388.7H421.7V390.5H415.9V389.5H410.1V394H404.3V393.8H398.5V394.7H392.7V397.3H386.9V402.9H381.1V401.7H375.4V405.1H369.6V408.7H363.8V407.2H358V404.8H352.2V403.5H346.4V405.4H340.6V413.3H334.8V415.4H329.1V415.6H323.3V420H317.5V420.3H311.7V422.8H305.9V427.6H300.1V423.6H294.3V424H288.6V431.6H282.8V430.6H277V438.7H271.2V439.5H265.4V438.5H259.6V450.2H253.8V453.3H248V454.6H242.3V456H219.1V457.5H213.3V465.3H207.5V469.7H201.7V471.8H196V467.1H190.2V478H184.4V485.8H178.6V488.7H172.8V485.7H167V488.8H161.2V483.9H155.4V478.5H149.7V486.3H143.9V490.1H138.1V496H132.3V492.3H126.5V512.8H120.7V518.8H114.9V515.3H109.2V534.4H103.4V544.2H97.6V541.3H91.8V539.8H80.2V543.8H74.4V570H68.6V566.7H62.9V562.9H57.1V558.2H51.3V552.6H45.5V570.9H39.7V594.5H33.9V592.1H28.1V609H-0.8Z" fill="#0c930c"/>
<path d="M-0.8 609H28.1V592.1H33.9V594.5H39.7V570.9H45.5V552.6H51.3V558.2H57.1V562.9H62.9V566.7H68.6V570H74.4V543.8H80.2V539.8H91.8V541.3H97.6V544.2H103.4V534.4H109.2V515.3H114.9V518.8H120.7V512.8H126.5V492.3H132.3V496H138.1V490.1H143.9V486.3H149.7V478.5H155.4V483.9H161.2V488.8H167V485.7H172.8V488.7H178.6V485.8H184.4V478H190.2V467.1H196V471.8H201.7V469.7H207.5V465.3H213.3V457.5H219.1V456H242.3V454.6H248V453.3H253.8V450.2H259.6V438.5H265.4V439.5H271.2V438.7H277V430.6H282.8V431.6H288.6V424H294.3V423.6H300.1V427.6H305.9V422.8H311.7V420.3H317.5V420H323.3V415.6H329.1V415.4H334.8V413.3H340.6V405.4H346.4V403.5H352.2V404.8H358V407.2H363.8V408.7H369.6V405.1H375.4V401.7H381.1V402.9H386.9V397.3H392.7V394.7H398.5V393.8H404.3V394H410.1V389.5H415.9V390.5H421.7V388.7H427.4V385.5H433.2V379.8H439V379H444.8V378.6H450.6V377.6H456.4V374H462.2V371.7H467.9V372.1H473.7V367.2H479.5V366.8H485.3V364.7H491.1V364.1H496.9V361.7H502.7V361.4H508.5V358.2H514.2V353.8H520V354.5H525.8V352.7H531.6V350.9H537.4V349.2H543.2V346.8H549V343.6H554.8V341.1H560.5V339.2H566.3V339.9H572.1V338H577.9V336.6H583.7V335.9H589.5V335.6H595.3V332.8H601V329.9H606.8V326.5H612.6V329.4H618.4V329.1H624.2V327.2H630V329.2H624.2V331.2H618.4V331.4H612.6V328.6H606.8V332H601V334.9H595.3V337.7H589.5V338.1H583.7V338.8H577.9V340.2H572.1V342.1H566.3V341.4H560.5V343.3H554.8V345.9H549V349.1H543.2V351.6H537.4V353.3H531.6V355.1H525.8V356.9H520V356.3H514.2V360.7H508.5V363.9H502.7V364.2H496.9V366.7H491.1V367.3H485.3V369.5H479.5V369.9H473.7V374.9H467.9V374.4H462.2V376.8H456.4V380.4H450.6V381.5H444.8V381.9H439V382.8H433.2V388.5H427.4V391.8H421.7V393.6H415.9V392.6H410.1V397.2H404.3V397.1H398.5V398H392.7V400.7H386.9V406.3H381.1V405.1H375.4V408.6H369.6V412.3H363.8V410.9H358V408.5H352.2V407.3H346.4V409.2H340.6V417.2H334.8V417.4H329.1V417.7H323.3V422.1H317.5V422.4H311.7V425H305.9V429.9H300.1V425.8H294.3V426.3H288.6V434H282.8V433H277V441.2H271.2V442.1H265.4V441.2H259.6V452.9H253.8V456.1H248V457.5H242.3V459H219.1V460.5H213.3V468.5H207.5V472.9H201.7V475.2H196V470.6H190.2V481.5H184.4V489.4H178.6V492.5H172.8V489.5H167V492.8H161.2V488H155.4V482.8H149.7V490.8H143.9V494.8H138.1V501H132.3V497.3H126.5V518.2H120.7V524.4H114.9V521.2H109.2V540.6H103.4V550.7H97.6V548.1H91.8V546.7H80.2V551H74.4V577.8H68.6V575.2H62.9V572.1H57.1V568.4H51.3V563.9H45.5V583.6H39.7V609H-0.8Z" fill="#6e1010"/>
<path d="M-0.8 609H39.7V583.6H45.5V563.9H51.3V568.4H57.1V572.1H62.9V575.2H68.6V577.8H74.4V551H80.2V546.7H91.8V548.1H97.6V550.7H103.4V540.6H109.2V521.2H114.9V524.4H120.7V518.2H126.5V497.3H132.3V501H138.1V494.8H143.9V490.8H149.7V482.8H155.4V488H161.2V492.8H167V489.5H172.8V492.5H178.6V489.4H184.4V481.5H190.2V470.6H196V475.2H201.7V472.9H207.5V468.5H213.3V460.5H219.1V459H242.3V457.5H248V456.1H253.8V452.9H259.6V441.2H265.4V442.1H271.2V441.2H277V433H282.8V434H288.6V426.3H294.3V425.8H300.1V429.9H305.9V425H311.7V422.4H317.5V422.1H323.3V417.7H329.1V417.4H334.8V417.2H340.6V409.2H346.4V407.3H352.2V408.5H358V410.9H363.8V412.3H369.6V408.6H375.4V405.1H381.1V406.3H386.9V400.7H392.7V398H398.5V397.1H404.3V397.2H410.1V392.6H415.9V393.6H421.7V391.8H427.4V388.5H433.2V382.8H439V381.9H444.8V381.5H450.6V380.4H456.4V376.8H462.2V374.4H467.9V374.9H473.7V369.9H479.5V369.5H485.3V367.3H491.1V366.7H496.9V364.2H502.7V363.9H508.5V360.7H514.2V356.3H520V356.9H525.8V355.1H531.6V353.3H537.4V351.6H543.2V349.1H549V345.9H554.8V343.3H560.5V341.4H566.3V342.1H572.1V340.2H577.9V338.8H583.7V338.1H589.5V337.7H595.3V334.9H601V332H606.8V328.6H612.6V331.4H618.4V331.2H624.2V329.2H630V349.1H624.2V350.6H618.4V351H612.6V348.4H606.8V352H601V355.1H595.3V357.4H589.5V358H583.7V358.2H577.9V359.9H572.1V361.2H566.3V358.5H560.5V360.6H554.8V363.3H549V366.7H543.2V368.6H537.4V370.6H531.6V372.5H525.8V374.6H520V374.2H514.2V378.8H508.5V382.3H502.7V382.8H496.9V384.7H491.1V384.6H485.3V387H479.5V386.7H473.7V390.6H467.9V390.4H462.2V393H456.4V395.9H450.6V394.8H444.8V395.3H439V395.7H433.2V401.6H427.4V405.1H421.7V407.1H415.9V406.3H410.1V411.1H398.5V409H392.7V411.9H386.9V417.7H381.1V416.7H375.4V420.4H369.6V424.3H363.8V423.1H358V420.9H352.2V418.7H346.4V420.9H340.6V427.1H334.8V427.5H329.1V427.9H323.3V432.6H317.5V433.2H311.7V435.9H305.9V441.1H300.1V437.3H294.3V438H288.6V441.2H282.8V440.4H277V448.8H271.2V449.9H265.4V446.4H259.6V458.3H253.8V461.6H248V463.2H242.3V464.8H219.1V466.6H213.3V474.7H207.5V479.4H201.7V481.8H196V477.5H190.2V488.6H184.4V496.6H178.6V500H172.8V497.2H167V500.8H161.2V496.4H155.4V491.6H149.7V499.9H143.9V504.3H138.1V510.8H132.3V507.5H126.5V528.9H120.7V535.7H114.9V532.9H109.2V553.1H103.4V563.6H97.6V561.6H91.8V560.6H80.2V565.5H74.4V593.4H68.6V592.1H62.9V590.5H57.1V588.7H51.3V586.4H45.5V609H-0.8Z" fill="#9148bd"/>
<path d="M-0.8 609H45.5V586.4H51.3V588.7H57.1V590.5H62.9V592.1H68.6V593.4H74.4V565.5H80.2V560.6H91.8V561.6H97.6V563.6H103.4V553.1H109.2V532.9H114.9V535.7H120.7V528.9H126.5V507.5H132.3V510.8H138.1V504.3H143.9V499.9H149.7V491.6H155.4V496.4H161.2V500.8H167V497.2H172.8V500H178.6V496.6H184.4V488.6H190.2V477.5H196V481.8H201.7V479.4H207.5V474.7H213.3V466.6H219.1V464.8H242.3V463.2H248V461.6H253.8V458.3H259.6V446.4H265.4V449.9H271.2V448.8H277V440.4H282.8V441.2H288.6V438H294.3V437.3H300.1V441.1H305.9V435.9H311.7V433.2H317.5V432.6H323.3V427.9H329.1V427.5H334.8V427.1H340.6V420.9H346.4V418.7H352.2V420.9H358V423.1H363.8V424.3H369.6V420.4H375.4V416.7H381.1V417.7H386.9V411.9H392.7V409H398.5V411.1H410.1V406.3H415.9V407.1H421.7V405.1H427.4V401.6H433.2V395.7H439V395.3H444.8V394.8H450.6V395.9H456.4V393H462.2V390.4H467.9V390.6H473.7V386.7H479.5V387H485.3V384.6H491.1V384.7H496.9V382.8H502.7V382.3H508.5V378.8H514.2V374.2H520V374.6H525.8V372.5H531.6V370.6H537.4V368.6H543.2V366.7H549V363.3H554.8V360.6H560.5V358.5H566.3V361.2H572.1V359.9H577.9V358.2H583.7V358H589.5V357.4H595.3V355.1H601V352H606.8V348.4H612.6V351H618.4V350.6H624.2V349.1H630V367.3H624.2V368.9H618.4V369.6H612.6V367.2H606.8V370.9H601V374.3H595.3V376.8H589.5V377.5H583.7V376.9H577.9V378.7H572.1V380.3H566.3V377.8H560.5V380.1H554.8V383.1H549V385.5H543.2V387.6H537.4V389.8H531.6V392H525.8V393.1H520V390.4H514.2V395.2H508.5V398.9H502.7V399.7H496.9V400.5H491.1V399.9H485.3V402.5H473.7V406.5H462.2V409.4H456.4V412.5H450.6V411.6H444.8V411.5H439V412H433.2V418.2H427.4V421.9H421.7V424.2H415.9V423.6H410.1V428.6H404.3V429H398.5V427.2H392.7V430.3H386.9V436.4H381.1V435.8H375.4V439.8H369.6V444H363.8V443.3H358V441.5H352.2V439.6H346.4V442.2H340.6V448.8H334.8V449.7H329.1V450.6H323.3V451.5H317.5V452.5H311.7V455.7H305.9V461.2H300.1V457.9H294.3V456.8H288.6V460.3H282.8V460H277V466.4H271.2V462.8H265.4V459.6H259.6V471.9H253.8V475.5H248V477.5H242.3V479.6H219.1V481.7H213.3V490.3H207.5V492.4H201.7V495.2H196V491.4H190.2V502.8H184.4V511.1H178.6V515H172.8V512.6H167V516.8H161.2V513.1H155.4V509H149.7V518.1H143.9V523.4H138.1V530.4H132.3V527.8H126.5V550.2H120.7V558.2H114.9V556.3H109.2V565.5H103.4V576.6H97.6V575.2H91.8V574.4H80.2V580H74.4V609H-0.8Z" fill="#ff6058"/>
<path d="M-0.8 609H74.4V580H80.2V574.4H91.8V575.2H97.6V576.6H103.4V565.5H109.2V556.3H114.9V558.2H120.7V550.2H126.5V527.8H132.3V530.4H138.1V523.4H143.9V518.1H149.7V509H155.4V513.1H161.2V516.8H167V512.6H172.8V515H178.6V511.1H184.4V502.8H190.2V491.4H196V495.2H201.7V492.4H207.5V490.3H213.3V481.7H219.1V479.6H242.3V477.5H248V475.5H253.8V471.9H259.6V459.6H265.4V462.8H271.2V466.4H277V460H282.8V460.3H288.6V456.8H294.3V457.9H300.1V461.2H305.9V455.7H311.7V452.5H317.5V451.5H323.3V450.6H329.1V449.7H334.8V448.8H340.6V442.2H346.4V439.6H352.2V441.5H358V443.3H363.8V444H369.6V439.8H375.4V435.8H381.1V436.4H386.9V430.3H392.7V427.2H398.5V429H404.3V428.6H410.1V423.6H415.9V424.2H421.7V421.9H427.4V418.2H433.2V412H439V411.5H444.8V411.6H450.6V412.5H456.4V409.4H462.2V406.5H473.7V402.5H485.3V399.9H491.1V400.5H496.9V399.7H502.7V398.9H508.5V395.2H514.2V390.4H520V393.1H525.8V392H531.6V389.8H537.4V387.6H543.2V385.5H549V383.1H554.8V380.1H560.5V377.8H566.3V380.3H572.1V378.7H577.9V376.9H583.7V377.5H589.5V376.8H595.3V374.3H601V370.9H606.8V367.2H612.6V369.6H618.4V368.9H624.2V367.3H630V385H624.2V386.8H618.4V387.7H612.6V385.4H606.8V389.4H601V392.9H595.3V395.6H589.5V396.5H583.7V396.1H577.9V398.2H572.1V399.2H566.3V396.9H560.5V399.4H554.8V402.6H549V405.3H543.2V407.6H537.4V410H531.6V412.5H525.8V413.8H520V411.4H514.2V416.5H508.5V420.4H502.7V421.4H496.9V422.5H491.1V422.3H485.3V425.1H479.5V425.4H473.7V429.8H467.9V430.1H462.2V433.2H456.4V436.7H450.6V436.2H444.8V436.4H439V437.3H433.2V443.8H427.4V447.9H421.7V450.7H415.9V450.3H410.1V455.8H404.3V456.6H398.5V455.2H392.7V458.8H386.9V465.4H381.1V465.3H375.4V469.8H369.6V474.6H363.8V474.5H358V473.3H352.2V472H346.4V475.2H340.6V482.5H334.8V484H329.1V485.6H323.3V487.2H317.5V488.9H311.7V492.9H305.9V499.3H300.1V496.8H294.3V496.6H288.6V501.1H282.8V501.8H277V509.2H271.2V506.6H265.4V504.4H259.6V517.9H253.8V517.2H248V520.4H242.3V523.7H219.1V527.2H213.3V530.9H207.5V531.3H201.7V532H196V529.4H190.2V541.7H184.4V547.4H178.6V552.6H172.8V551.2H167V548.9H161.2V546.4H155.4V543.8H149.7V545.4H143.9V551.9H138.1V550.1H132.3V548.1H126.5V560.9H120.7V569.5H114.9V568H109.2V577.9H103.4V589.6H97.6V588.7H91.8V588.2H80.2V594.5H74.4V609H-0.8Z" fill="#1e1e1e"/>
<path d="M-0.8 609H74.4V594.5H80.2V588.2H91.8V588.7H97.6V589.6H103.4V577.9H109.2V568H114.9V569.5H120.7V560.9H126.5V548.1H132.3V550.1H138.1V551.9H143.9V545.4H149.7V543.8H155.4V546.4H161.2V548.9H167V551.2H172.8V552.6H178.6V547.4H184.4V541.7H190.2V529.4H196V532H201.7V531.3H207.5V530.9H213.3V527.2H219.1V523.7H242.3V520.4H248V517.2H253.8V517.9H259.6V504.4H265.4V506.6H271.2V509.2H277V501.8H282.8V501.1H288.6V496.6H294.3V496.8H300.1V499.3H305.9V492.9H311.7V488.9H317.5V487.2H323.3V485.6H329.1V484H334.8V482.5H340.6V475.2H346.4V472H352.2V473.3H358V474.5H363.8V474.6H369.6V469.8H375.4V465.3H381.1V465.4H386.9V458.8H392.7V455.2H398.5V456.6H404.3V455.8H410.1V450.3H415.9V450.7H421.7V447.9H427.4V443.8H433.2V437.3H439V436.4H444.8V436.2H450.6V436.7H456.4V433.2H462.2V430.1H467.9V429.8H473.7V425.4H479.5V425.1H485.3V422.3H491.1V422.5H496.9V421.4H502.7V420.4H508.5V416.5H514.2V411.4H520V413.8H525.8V412.5H531.6V410H537.4V407.6H543.2V405.3H549V402.6H554.8V399.4H560.5V396.9H566.3V399.2H572.1V398.2H577.9V396.1H583.7V396.5H589.5V395.6H595.3V392.9H601V389.4H606.8V385.4H612.6V387.7H618.4V386.8H624.2V385H630V559.9H624.2V561.6H618.4V562.8H612.6V562.4H606.8V561.9H601V564.2H595.3V563.7H589.5V563.2H583.7V562.8H572.1V563H566.3V562.5H560.5V562.8H554.8V563.4H549V564H543.2V563.5H537.4V564.2H531.6V563.6H525.8V565.5H520V565H514.2V565.3H508.5V566H502.7V565.5H496.9V567.5H491.1V567H485.3V566.4H479.5V565.9H473.7V568H467.9V567.4H462.2V569H456.4V568.4H450.6V567.8H444.8V567.2H439V566.6H433.2V566H427.4V567.9H421.7V569.4H415.9V570.4H410.1V569.8H404.3V569.2H398.5V568.6H392.7V569.6H386.9V572.3H381.1V571.7H375.4V571H369.6V571.6H363.8V571.7H358V572.3H352.2V571.6H346.4V570.9H340.6V572.1H334.8V571.4H329.1V570.6H323.3V574H317.5V573.3H311.7V572.5H305.9V571.7H300.1V570.8H294.3V570H288.6V571.4H282.8V570.5H277V574.6H271.2V573.7H265.4V573H259.6V572H253.8V572.8H248V571.8H242.3V573.7H219.1V572.6H213.3V577.8H207.5V576.6H201.7V575.5H196V574.4H190.2V573.6H184.4V572.8H178.6V571.4H172.8V570.5H167V568.9H161.2V567.3H155.4V565.5H149.7V563.6H143.9V570.9H138.1V569.7H132.3V568.4H126.5V571.6H120.7V580.8H114.9V579.7H109.2V590.4H103.4V602.5H97.6V602.2H91.8V602.1H80.2V609H-0.8Z" fill="#e3e9f6"/>
<path d="M-0.8 609H80.2V602.1H91.8V602.2H97.6V602.5H103.4V590.4H109.2V579.7H114.9V580.8H120.7V571.6H126.5V568.4H132.3V569.7H138.1V570.9H143.9V563.6H149.7V565.5H155.4V567.3H161.2V568.9H167V570.5H172.8V571.4H178.6V572.8H184.4V573.6H190.2V574.4H196V575.5H201.7V576.6H207.5V577.8H213.3V572.6H219.1V573.7H242.3V571.8H248V572.8H253.8V572H259.6V573H265.4V573.7H271.2V574.6H277V570.5H282.8V571.4H288.6V570H294.3V570.8H300.1V571.7H305.9V572.5H311.7V573.3H317.5V574H323.3V570.6H329.1V571.4H334.8V572.1H340.6V570.9H346.4V571.6H352.2V572.3H358V571.7H363.8V571.6H369.6V571H375.4V571.7H381.1V572.3H386.9V569.6H392.7V568.6H398.5V569.2H404.3V569.8H410.1V570.4H415.9V569.4H421.7V567.9H427.4V566H433.2V566.6H439V567.2H444.8V567.8H450.6V568.4H456.4V569H462.2V567.4H467.9V568H473.7V565.9H479.5V566.4H485.3V567H491.1V567.5H496.9V565.5H502.7V566H508.5V565.3H514.2V565H520V565.5H525.8V563.6H531.6V564.2H537.4V563.5H543.2V564H549V563.4H554.8V562.8H560.5V562.5H566.3V563H572.1V562.8H583.7V563.2H589.5V563.7H595.3V564.2H601V561.9H606.8V562.4H612.6V562.8H618.4V561.6H624.2V559.9H630V568.4H624.2V569.5H618.4V570.8H612.6V570.4H606.8V570H601V570.3H595.3V569.9H589.5V569.5H583.7V569.1H577.9V569.2H572.1V569.5H566.3V569.1H560.5V569.4H554.8V570.1H549V569.7H543.2V569.2H537.4V569.9H531.6V569.5H525.8V571.4H520V571H514.2V571.3H508.5V572.1H502.7V571.7H496.9V573.8H491.1V573.3H485.3V572.9H479.5V572.4H473.7V574.6H467.9V574.1H462.2V575.8H456.4V575.3H450.6V574.8H444.8V574.3H439V573.8H433.2V573.3H427.4V573.8H421.7V575.3H415.9V576.5H410.1V576H404.3V575.4H398.5V574.9H392.7V576H386.9V578.9H381.1V578.3H375.4V577.8H369.6V578.5H363.8V577.8H358V577.2H352.2V576.6H346.4V576H340.6V575.4H334.8V574.7H329.1V574H323.3V577.5H317.5V576.8H311.7V576.1H305.9V575.4H300.1V574.7H294.3V573.9H288.6V575.4H282.8V574.6H277V578.8H271.2V578H265.4V577.4H259.6V576.5H253.8V575.6H248V574.7H242.3V576.6H219.1V575.7H213.3V580.9H207.5V579.8H201.7V578.9H196V577.9H190.2V577.1H184.4V576.4H178.6V575.2H172.8V574.3H167V572.9H161.2V571.5H155.4V569.9H149.7V568.1H143.9V575.7H138.1V574.6H132.3V573.5H126.5V576.9H120.7V586.4H114.9V585.6H109.2V596.6H103.4V609H-0.8Z" fill="#4677a6"/>
<path d="M-0.8 609H103.4V596.6H109.2V585.6H114.9V586.4H120.7V576.9H126.5V573.5H132.3V574.6H138.1V575.7H143.9V568.1H149.7V569.9H155.4V571.5H161.2V572.9H167V574.3H172.8V575.2H178.6V576.4H184.4V577.1H190.2V577.9H196V578.9H201.7V579.8H207.5V580.9H213.3V575.7H219.1V576.6H242.3V574.7H248V575.6H253.8V576.5H259.6V577.4H265.4V578H271.2V578.8H277V574.6H282.8V575.4H288.6V573.9H294.3V574.7H300.1V575.4H305.9V576.1H311.7V576.8H317.5V577.5H323.3V574H329.1V574.7H334.8V575.4H340.6V576H346.4V576.6H352.2V577.2H358V577.8H363.8V578.5H369.6V577.8H375.4V578.3H381.1V578.9H386.9V576H392.7V574.9H398.5V575.4H404.3V576H410.1V576.5H415.9V575.3H421.7V573.8H427.4V573.3H433.2V573.8H439V574.3H444.8V574.8H450.6V575.3H456.4V575.8H462.2V574.1H467.9V574.6H473.7V572.4H479.5V572.9H485.3V573.3H491.1V573.8H496.9V571.7H502.7V572.1H508.5V571.3H514.2V571H520V571.4H525.8V569.5H531.6V569.9H537.4V569.2H543.2V569.7H549V570.1H554.8V569.4H560.5V569.1H566.3V569.5H572.1V569.2H577.9V569.1H583.7V569.5H589.5V569.9H595.3V570.3H601V570H606.8V570.4H612.6V570.8H618.4V569.5H624.2V568.4H630V574.4H624.2V575.6H618.4V577H612.6V576.6H606.8V576.3H601V576H595.3V575.6H589.5V575.3H583.7V574.9H577.9V575.1H572.1V575.5H566.3V575.1H560.5V575.5H554.8V576.2H549V575.9H543.2V575.5H537.4V576.3H531.6V575.9H525.8V577.9H520V577.5H514.2V578H508.5V578.9H502.7V578.5H496.9V580.7H491.1V580.3H485.3V579.9H479.5V579.6H473.7V581.9H467.9V581.5H462.2V583.3H456.4V582.9H450.6V582.5H444.8V582.1H439V581.7H433.2V581.3H427.4V581.9H421.7V581.5H415.9V582.8H410.1V582.4H404.3V581.9H398.5V581.5H392.7V582.7H386.9V585.7H381.1V585.3H375.4V584.9H369.6V585.6H363.8V585.2H358V584.7H352.2V584.3H346.4V583.8H340.6V583.3H334.8V582.8H329.1V582.3H323.3V585.9H317.5V585.4H311.7V584.9H305.9V584.4H300.1V583.8H294.3V583.2H288.6V585H282.8V584.4H277V588.9H271.2V588.4H265.4V587.9H259.6V587.3H253.8V586.8H248V586.1H242.3V588.4H219.1V587.8H213.3V587.1H207.5V586.3H201.7V585.6H196V584.8H190.2V584.2H184.4V583.6H178.6V582.7H172.8V582H167V581H161.2V579.8H155.4V578.5H149.7V577.2H143.9V585.2H138.1V584.4H132.3V583.6H126.5V587.6H120.7V597.7H114.9V597.3H109.2V609H-0.8Z" fill="#f0c092"/>
<path d="M-0.8 609H109.2V597.3H114.9V597.7H120.7V587.6H126.5V583.6H132.3V584.4H138.1V585.2H143.9V577.2H149.7V578.5H155.4V579.8H161.2V581H167V582H172.8V582.7H178.6V583.6H184.4V584.2H190.2V584.8H196V585.6H201.7V586.3H207.5V587.1H213.3V587.8H219.1V588.4H242.3V586.1H248V586.8H253.8V587.3H259.6V587.9H265.4V588.4H271.2V588.9H277V584.4H282.8V585H288.6V583.2H294.3V583.8H300.1V584.4H305.9V584.9H311.7V585.4H317.5V585.9H323.3V582.3H329.1V582.8H334.8V583.3H340.6V583.8H346.4V584.3H352.2V584.7H358V585.2H363.8V585.6H369.6V584.9H375.4V585.3H381.1V585.7H386.9V582.7H392.7V581.5H398.5V581.9H404.3V582.4H410.1V582.8H415.9V581.5H421.7V581.9H427.4V581.3H433.2V581.7H439V582.1H444.8V582.5H450.6V582.9H456.4V583.3H462.2V581.5H467.9V581.9H473.7V579.6H479.5V579.9H485.3V580.3H491.1V580.7H496.9V578.5H502.7V578.9H508.5V578H514.2V577.5H520V577.9H525.8V575.9H531.6V576.3H537.4V575.5H543.2V575.9H549V576.2H554.8V575.5H560.5V575.1H566.3V575.5H572.1V575.1H577.9V574.9H583.7V575.3H589.5V575.6H595.3V576H601V576.3H606.8V576.6H612.6V577H618.4V575.6H624.2V574.4H630V583.1H624.2V584.4H618.4V585.8H612.6V585.6H606.8V585.3H601V585.1H595.3V584.9H589.5V584.6H583.7V584.3H577.9V584.6H572.1V585.1H566.3V584.8H560.5V585.3H554.8V585H549V584.8H543.2V584.5H537.4V585.4H531.6V585.1H525.8V587.3H520V587H514.2V587.6H508.5V588.6H502.7V588.3H496.9V590.6H491.1V590.4H485.3V590.1H479.5V589.9H473.7V592.4H467.9V592.1H462.2V594H456.4V593.8H450.6V593.6H444.8V593.4H439V593.1H433.2V592.9H427.4V592.7H421.7V592.4H415.9V593.8H410.1V593.5H404.3V593.3H398.5V593H392.7V594.5H386.9V597.6H381.1V597.4H375.4V597.2H369.6V598.2H363.8V598H358V597.8H352.2V597.6H346.4V597.4H340.6V597.1H334.8V596.9H329.1V596.7H323.3V600.6H317.5V600.4H311.7V600.2H305.9V600H300.1V599.8H294.3V599.6H288.6V601.8H282.8V601.6H277V606.5H271.2V606.4H259.6V606.3H253.8V606.2H248V606.1H219.1V606H213.3V605.9H207.5V605.8H201.7V605.7H196V605.5H184.4V605.4H178.6V605.2H172.8V605.1H167V605H161.2V604.8H155.4V604.6H149.7V604.5H143.9V604.2H138.1V604.1H132.3V603.9H126.5V609H-0.8Z" fill="#d987aa"/>
<path d="M-0.8 609H126.5V603.9H132.3V604.1H138.1V604.2H143.9V604.5H149.7V604.6H155.4V604.8H161.2V605H167V605.1H172.8V605.2H178.6V605.4H184.4V605.5H196V605.7H201.7V605.8H207.5V605.9H213.3V606H219.1V606.1H248V606.2H253.8V606.3H259.6V606.4H271.2V606.5H277V601.6H282.8V601.8H288.6V599.6H294.3V599.8H300.1V600H305.9V600.2H311.7V600.4H317.5V600.6H323.3V596.7H329.1V596.9H334.8V597.1H340.6V597.4H346.4V597.6H352.2V597.8H358V598H363.8V598.2H369.6V597.2H375.4V597.4H381.1V597.6H386.9V594.5H392.7V593H398.5V593.3H404.3V593.5H410.1V593.8H415.9V592.4H421.7V592.7H427.4V592.9H433.2V593.1H439V593.4H444.8V593.6H450.6V593.8H456.4V594H462.2V592.1H467.9V592.4H473.7V589.9H479.5V590.1H485.3V590.4H491.1V590.6H496.9V588.3H502.7V588.6H508.5V587.6H514.2V587H520V587.3H525.8V585.1H531.6V585.4H537.4V584.5H543.2V584.8H549V585H554.8V585.3H560.5V584.8H566.3V585.1H572.1V584.6H577.9V584.3H583.7V584.6H589.5V584.9H595.3V585.1H601V585.3H606.8V585.6H612.6V585.8H618.4V584.4H624.2V583.1H630V592.1H624.2V593.5H618.4V593.3H612.6V593.2H606.8V593H601V592.8H595.3V592.7H589.5V592.5H583.7V592.3H577.9V592.1H572.1V591.9H566.3V591.8H560.5V592.3H554.8V592.1H549V591.9H543.2V591.7H537.4V592.7H531.6V592.5H525.8V594.8H520V594.6H514.2V595.3H508.5V596.4H502.7V596.2H496.9V596H491.1V595.9H485.3V595.7H479.5V595.5H473.7V598.1H467.9V597.9H462.2V598.5H456.4V598.3H450.6V598.2H444.8V598H439V597.9H433.2V597.7H427.4V597.5H421.7V597.3H415.9V598H410.1V597.8H404.3V597.6H398.5V597.4H392.7V598.9H386.9V602.2H381.1V602.1H375.4V601.9H369.6V601.8H363.8V601.7H358V601.5H352.2V601.4H346.4V601.2H340.6V601.1H334.8V600.9H329.1V600.8H323.3V604.8H317.5V604.7H311.7V604.6H305.9V604.5H300.1V604.4H294.3V604.3H288.6V606.6H282.8V606.5H271.2V606.4H259.6V606.3H253.8V606.2H248V606.1H219.1V606H213.3V605.9H207.5V605.8H201.7V605.7H196V605.5H184.4V605.4H178.6V605.2H172.8V605.1H167V605H161.2V604.8H155.4V604.6H149.7V604.5H143.9V604.2H138.1V604.1H132.3V603.9H126.5V609H-0.8Z" fill="#ffffff"/>
<path d="M-0.8 609H126.5V603.9H132.3V604.1H138.1V604.2H143.9V604.5H149.7V604.6H155.4V604.8H161.2V605H167V605.1H172.8V605.2H178.6V605.4H184.4V605.5H196V605.7H201.7V605.8H207.5V605.9H213.3V606H219.1V606.1H248V606.2H253.8V606.3H259.6V606.4H271.2V606.5H282.8V606.6H288.6V604.3H294.3V604.4H300.1V604.5H305.9V604.6H311.7V604.7H317.5V604.8H323.3V600.8H329.1V600.9H334.8V601.1H340.6V601.2H346.4V601.4H352.2V601.5H358V601.7H363.8V601.8H369.6V601.9H375.4V602.1H381.1V602.2H386.9V598.9H392.7V597.4H398.5V597.6H404.3V597.8H410.1V598H415.9V597.3H421.7V597.5H427.4V597.7H433.2V597.9H439V598H444.8V598.2H450.6V598.3H456.4V598.5H462.2V597.9H467.9V598.1H473.7V595.5H479.5V595.7H485.3V595.9H491.1V596H496.9V596.2H502.7V596.4H508.5V595.3H514.2V594.6H520V594.8H525.8V592.5H531.6V592.7H537.4V591.7H543.2V591.9H549V592.1H554.8V592.3H560.5V591.8H566.3V591.9H572.1V592.1H577.9V592.3H583.7V592.5H589.5V592.7H595.3V592.8H601V593H606.8V593.2H612.6V593.3H618.4V593.5H624.2V592.1H630V600.8H624.2V601.7H612.6V601.6H606.8V601.5H601V601.4H589.5V601.3H583.7V601.2H577.9V601.1H572.1V601H566.3V600.9H560.5V601.6H554.8V601.5H549V601.4H537.4V601.3H531.6V601.2H525.8V601.1H520V601H514.2V600.9H508.5V600.8H502.7V600.7H496.9V600.6H491.1V600.5H485.3V600.4H479.5V600.2H473.7V600.1H467.9V600H462.2V599.9H456.4V599.7H450.6V599.6H444.8V599.5H439V599.3H433.2V599.2H427.4V599H421.7V598.9H415.9V599.6H410.1V599.4H404.3V599.3H398.5V599.1H392.7V600.6H386.9V603.9H381.1V603.8H375.4V603.7H369.6V603.6H363.8V603.5H358V603.4H352.2V603.3H346.4V603.2H340.6V603.1H334.8V603H329.1V602.8H323.3V606.9H311.7V606.8H300.1V606.7H288.6V609H-0.8Z" fill="#e7a9b0"/>
<path d="M-0.8 609H288.6V606.7H300.1V606.8H311.7V606.9H323.3V602.8H329.1V603H334.8V603.1H340.6V603.2H346.4V603.3H352.2V603.4H358V603.5H363.8V603.6H369.6V603.7H375.4V603.8H381.1V603.9H386.9V600.6H392.7V599.1H398.5V599.3H404.3V599.4H410.1V599.6H415.9V598.9H421.7V599H427.4V599.2H433.2V599.3H439V599.5H444.8V599.6H450.6V599.7H456.4V599.9H462.2V600H467.9V600.1H473.7V600.2H479.5V600.4H485.3V600.5H491.1V600.6H496.9V600.7H502.7V600.8H508.5V600.9H514.2V601H520V601.1H525.8V601.2H531.6V601.3H537.4V601.4H549V601.5H554.8V601.6H560.5V600.9H566.3V601H572.1V601.1H577.9V601.2H583.7V601.3H589.5V601.4H601V601.5H606.8V601.6H612.6V601.7H624.2V600.8H630V601.8H624.2V602.8H618.4V602.7H612.6V602.6H601V602.5H595.3V602.4H583.7V602.3H577.9V602.2H572.1V602.1H560.5V602.7H549V602.6H543.2V602.5H531.6V602.4H525.8V602.3H520V602.2H514.2V602.1H508.5V602H496.9V601.9H491.1V601.8H485.3V601.7H479.5V601.6H473.7V601.5H467.9V601.4H462.2V601.3H456.4V601.2H450.6V601.1H444.8V600.9H439V600.8H433.2V600.7H427.4V600.6H421.7V600.4H415.9V601.1H410.1V601H404.3V600.9H398.5V600.7H392.7V602.3H386.9V605.6H381.1V605.5H369.6V605.4H363.8V605.3H352.2V605.2H346.4V605.1H340.6V605H329.1V604.9H323.3V609H-0.8Z" fill="#7be85a"/>
<path d="M-0.8 609H323.3V604.9H329.1V605H340.6V605.1H346.4V605.2H352.2V605.3H363.8V605.4H369.6V605.5H381.1V605.6H386.9V602.3H392.7V600.7H398.5V600.9H404.3V601H410.1V601.1H415.9V600.4H421.7V600.6H427.4V600.7H433.2V600.8H439V600.9H444.8V601.1H450.6V601.2H456.4V601.3H462.2V601.4H467.9V601.5H473.7V601.6H479.5V601.7H485.3V601.8H491.1V601.9H496.9V602H508.5V602.1H514.2V602.2H520V602.3H525.8V602.4H531.6V602.5H543.2V602.6H549V602.7H560.5V602.1H572.1V602.2H577.9V602.3H583.7V602.4H595.3V602.5H601V602.6H612.6V602.7H618.4V602.8H624.2V601.8H630V605.5H618.4V605.4H606.8V605.3H589.5V605.2H572.1V605.1H560.5V605H549V604.9H537.4V604.8H525.8V604.7H514.2V604.6H502.7V604.5H491.1V604.4H485.3V604.3H473.7V604.2H462.2V604.1H456.4V604H450.6V603.9H439V603.8H433.2V603.7H427.4V603.6H415.9V604.3H410.1V604.2H404.3V604.1H398.5V604H392.7V605.6H386.9V609H-0.8Z" fill="#e31a08"/>
<path d="M-0.8 609H386.9V605.6H392.7V604H398.5V604.1H404.3V604.2H410.1V604.3H415.9V603.6H427.4V603.7H433.2V603.8H439V603.9H450.6V604H456.4V604.1H462.2V604.2H473.7V604.3H485.3V604.4H491.1V604.5H502.7V604.6H514.2V604.7H525.8V604.8H537.4V604.9H549V605H560.5V605.1H572.1V605.2H589.5V605.3H606.8V605.4H618.4V605.5H630V609H-0.8Z" fill="#6a66a4"/>
</g>
<rect x="0" y="607" width="630" height="1.6" fill="#b4b4b4"/>
<rect x="0" y="608.6" width="630" height="21.4" fill="#000"/>
<g opacity="0.999">
<rect x="430.9" y="0" width="2.2" height="129.6" fill="#fff"/>
<rect x="431.1" y="438" width="1.9" height="128.6" fill="#000"/>
<text transform="translate(93.47 91.20) rotate(0.00) scale(0.9554 1)" font-size="29.50" fill="#fff" stroke="#fff" stroke-width="0.65" stroke-linejoin="round" font-weight="bold" textLength="150.79" lengthAdjust="spacing">GERMANY</text>
<text transform="translate(16.66 222.57) rotate(2.70) skewX(-6.0) scale(0.8000 1)" font-size="20.50" fill="#fff" stroke="#fff" stroke-width="0.45" stroke-linejoin="round" font-weight="bold" textLength="170.79" lengthAdjust="spacing">NETHERLANDS</text>
<text transform="translate(221.15 224.40) rotate(0.00) scale(1.0727 1)" font-size="10.00" fill="#fff" stroke="#fff" stroke-width="0.22" stroke-linejoin="round" font-weight="bold" textLength="27.22" lengthAdjust="spacing">INDIA</text>
<text transform="translate(433.06 176.26) rotate(-5.10) scale(0.9216 1)" font-size="20.00" fill="#000" stroke="#000" stroke-width="0.44" stroke-linejoin="round" font-weight="bold" textLength="87.79" lengthAdjust="spacing">SWEDEN</text>
<text transform="translate(69.45 351.07) rotate(-18.00) scale(1.0214 1)" font-size="28.00" fill="#fff" stroke="#fff" stroke-width="0.62" stroke-linejoin="round" font-weight="bold" textLength="116.67" lengthAdjust="spacing">FRANCE</text>
<text transform="translate(77.01 401.49) rotate(-17.50) scale(1.0199 1)" font-size="11.00" fill="#000" stroke="#000" stroke-width="0.24" stroke-linejoin="round" font-weight="bold" textLength="46.44" lengthAdjust="spacing">POLAND</text>
<text transform="translate(389.87 305.50) rotate(0.00) scale(0.9450 1)" font-size="29.50" fill="#000" stroke="#000" stroke-width="0.65" stroke-linejoin="round" font-weight="bold" textLength="42.61" lengthAdjust="spacing">UK</text>
<text transform="translate(59.43 515.87) rotate(-23.60) scale(1.0292 1)" font-size="16.00" fill="#fff" stroke="#fff" stroke-width="0.35" stroke-linejoin="round" font-weight="bold" textLength="60.45" lengthAdjust="spacing">RUSSIA</text>
<text transform="translate(44.39 558.73) rotate(31.20) scale(0.9500 1)" font-size="10.00" fill="#fff" stroke="#fff" stroke-width="0.22" stroke-linejoin="round" font-weight="bold" textLength="33.37" lengthAdjust="spacing">SPAIN</text>
<text transform="translate(449.10 364.73) rotate(-15.30) scale(0.8600 1)" font-size="16.50" fill="#000" stroke="#000" stroke-width="0.36" stroke-linejoin="round" font-weight="bold" textLength="87.39" lengthAdjust="spacing">HUNGARY</text>
<text transform="translate(450.62 376.91) rotate(-14.00) scale(0.9500 1)" font-size="15.50" fill="#fff" stroke="#fff" stroke-width="0.34" stroke-linejoin="round" font-weight="bold" textLength="54.51" lengthAdjust="spacing">ITALY</text>
<text transform="translate(450.19 391.90) rotate(-11.40) scale(0.9000 1)" font-size="15.50" fill="#fff" stroke="#fff" stroke-width="0.34" stroke-linejoin="round" font-weight="bold" textLength="70.09" lengthAdjust="spacing">OTHERS</text>
<text transform="translate(456.14 407.32) rotate(-15.50) scale(0.9200 1)" font-size="15.50" fill="#fff" stroke="#fff" stroke-width="0.34" stroke-linejoin="round" font-weight="bold" textLength="119.33" lengthAdjust="spacing">SWITZERLAND</text>
<text transform="translate(222.79 508.95) rotate(-17.10) scale(1.0160 1)" font-size="17.50" fill="#fff" font-weight="bold" textLength="77.78" lengthAdjust="spacing">AUSTRIA</text>
<text transform="translate(480.70 503.80) rotate(0.00) scale(0.9937 1)" font-size="28.50" fill="#000" stroke="#000" stroke-width="0.63" stroke-linejoin="round" font-weight="bold" textLength="60.18" lengthAdjust="spacing">USA</text>
<text transform="translate(455.94 575.42) rotate(-3.40) scale(1.0180 1)" font-size="8.50" fill="#fff" stroke="#fff" stroke-width="0.19" stroke-linejoin="round" font-weight="bold" textLength="49.11" lengthAdjust="spacing">AUSTRALIA</text>
<text transform="translate(220.72 586.20) rotate(0.50) scale(0.9300 1)" font-size="10.70" fill="#000" stroke="#000" stroke-width="0.24" stroke-linejoin="round" font-weight="bold" textLength="53.49" lengthAdjust="spacing">BELGIUM</text>
<text transform="translate(149.44 594.95) rotate(5.10) scale(0.9700 1)" font-size="14.50" fill="#000" stroke="#000" stroke-width="0.32" stroke-linejoin="round" font-weight="bold" textLength="79.29" lengthAdjust="spacing">DENMARK</text>
<text transform="translate(539.13 592.60) rotate(0.00) scale(1.0466 1)" font-size="10.50" fill="#000" stroke="#000" stroke-width="0.23" stroke-linejoin="round" font-weight="bold" textLength="34.81" lengthAdjust="spacing">JAPAN</text>
<text transform="translate(529.63 602.30) rotate(0.00) scale(1.0316 1)" font-size="10.50" fill="#000" stroke="#000" stroke-width="0.23" stroke-linejoin="round" font-weight="bold" textLength="45.50" lengthAdjust="spacing">CANADA</text>
<text transform="translate(529.72 608.00) rotate(0.00) scale(1.0287 1)" font-size="8.00" fill="#fff" stroke="#fff" stroke-width="0.18" stroke-linejoin="round" font-weight="bold" textLength="25.33" lengthAdjust="spacing">CHINA</text>
<path id="oe" d="M395.3 256.2 Q 460 232.5 542.2 223.4" fill="none"/>
<text font-size="15.8" fill="#000" stroke="#000" stroke-width="0.3" font-weight="bold"><textPath href="#oe" textLength="150.5" lengthAdjust="spacingAndGlyphs">OTHER EUROPEANS</textPath></text>
<text transform="translate(428.20 36.18) rotate(-90.00) scale(0.9032 1)" font-size="16.50" fill="#fff" stroke="#fff" stroke-width="0.36" stroke-linejoin="round" font-weight="bold" textLength="36.71" lengthAdjust="spacing">1975</text>
<text transform="translate(437.64 10.90) rotate(0.00) scale(1.0602 1)" font-size="10.30" fill="#fff" stroke="#fff" stroke-width="0.23" stroke-linejoin="round" font-weight="bold" textLength="129.71" lengthAdjust="spacing">CUMULATIVE SHARES OF</text>
<text transform="translate(443.34 23.95) rotate(0.00) scale(1.0533 1)" font-size="10.30" fill="#fff" stroke="#fff" stroke-width="0.23" stroke-linejoin="round" font-weight="bold" textLength="124.58" lengthAdjust="spacing">SCIENCE NOBEL PRIZES</text>
<text transform="translate(449.14 37.00) rotate(0.00) scale(1.0604 1)" font-size="10.30" fill="#fff" stroke="#fff" stroke-width="0.23" stroke-linejoin="round" font-weight="bold" textLength="118.84" lengthAdjust="spacing">BY COUNTRY OF BIRTH</text>
<text transform="translate(453.84 50.05) rotate(0.00) scale(1.0405 1)" font-size="10.30" fill="#fff" stroke="#fff" stroke-width="0.23" stroke-linejoin="round" font-weight="bold" textLength="114.48" lengthAdjust="spacing">J. SCHMIDHUBER 2010</text>
<text transform="translate(54.5 625.5) scale(0.93 1)" font-size="16" fill="#fff" font-weight="normal" text-anchor="middle">1910</text>
<rect x="54.8" y="608.6" width="2" height="1.3" fill="#ddd"/>
<text transform="translate(112.2 625.5) scale(0.93 1)" font-size="16" fill="#fff" font-weight="normal" text-anchor="middle">1920</text>
<rect x="112.5" y="608.6" width="2" height="1.3" fill="#ddd"/>
<text transform="translate(170.0 625.5) scale(0.93 1)" font-size="16" fill="#fff" font-weight="normal" text-anchor="middle">1930</text>
<rect x="170.3" y="608.6" width="2" height="1.3" fill="#ddd"/>
<text transform="translate(227.7 625.5) scale(0.93 1)" font-size="16" fill="#fff" font-weight="normal" text-anchor="middle">1940</text>
<rect x="228.0" y="608.6" width="2" height="1.3" fill="#ddd"/>
<text transform="translate(285.5 625.5) scale(0.93 1)" font-size="16" fill="#fff" font-weight="normal" text-anchor="middle">1950</text>
<rect x="285.8" y="608.6" width="2" height="1.3" fill="#ddd"/>
<text transform="translate(343.2 625.5) scale(0.93 1)" font-size="16" fill="#fff" font-weight="normal" text-anchor="middle">1960</text>
<rect x="343.5" y="608.6" width="2" height="1.3" fill="#ddd"/>
<text transform="translate(400.9 625.5) scale(0.93 1)" font-size="16" fill="#fff" font-weight="normal" text-anchor="middle">1970</text>
<rect x="401.2" y="608.6" width="2" height="1.3" fill="#ddd"/>
<text transform="translate(458.7 625.5) scale(0.93 1)" font-size="16" fill="#fff" font-weight="normal" text-anchor="middle">1980</text>
<rect x="459.0" y="608.6" width="2" height="1.3" fill="#ddd"/>
<text transform="translate(516.4 625.5) scale(0.93 1)" font-size="16" fill="#fff" font-weight="normal" text-anchor="middle">1990</text>
<rect x="516.7" y="608.6" width="2" height="1.3" fill="#ddd"/>
<text transform="translate(574.2 625.5) scale(0.93 1)" font-size="16" fill="#fff" font-weight="normal" text-anchor="middle">2000</text>
<rect x="574.5" y="608.6" width="2" height="1.3" fill="#ddd"/>
<rect x="575.8" y="0" width="54.2" height="630" fill="#fff" fill-opacity="0.5"/>
<rect x="628.6" y="0" width="1.4" height="630" fill="#fff" fill-opacity="0.6"/>
</g>
</svg>
</body></html>
